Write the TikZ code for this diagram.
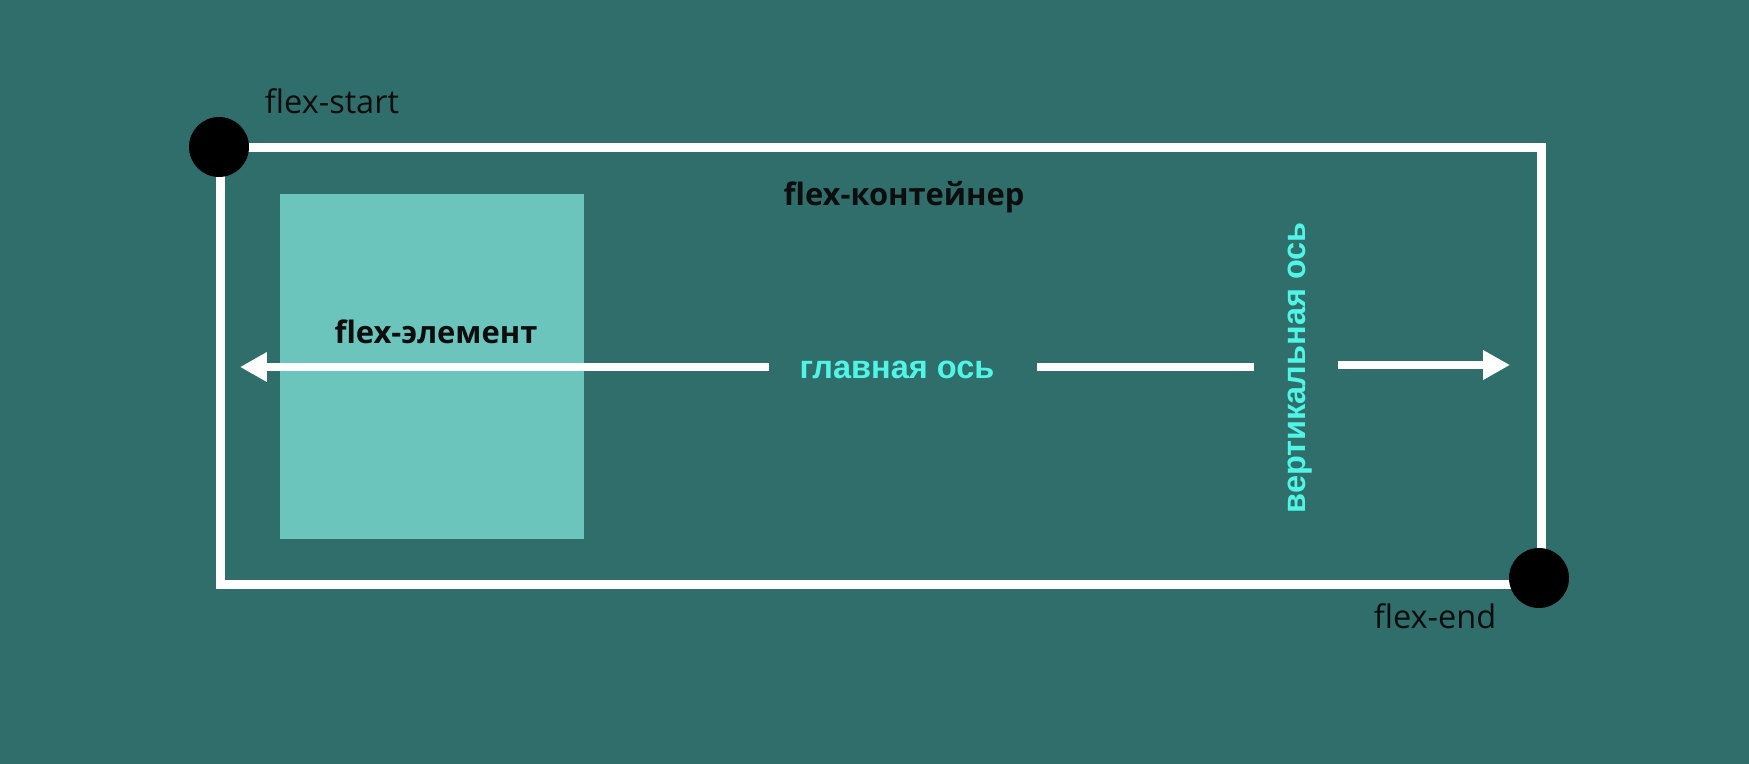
\documentclass[tikz,border=0pt]{standalone}
\usepackage{fontspec}
\setmainfont{Open Sans}
\newfontfamily\axisfont{Liberation Sans}
\usetikzlibrary{arrows.meta}
\definecolor{bgteal}{HTML}{2F6E6B}
\definecolor{itemteal}{HTML}{6CC5BD}
\definecolor{axiscyan}{HTML}{50F5E6}
\definecolor{inkblack}{HTML}{0D0D0D}
\tikzset{
  corner/.style={circle, fill=black, inner sep=0pt, minimum size=1.2cm},
  frame/.style={draw=white, line width=0.18cm},
  axisline/.style={draw=white, line width=0.17cm},
  axishead/.style={-{Triangle[length=0.54cm, width=0.56cm]}},
  plainlbl/.style={text=inkblack, inner sep=0pt, font=\fontsize{18.5pt}{20pt}\selectfont},
  boldlbl/.style={text=inkblack, inner sep=0pt, font=\fontsize{17.6pt}{19pt}\selectfont\bfseries},
  axislbl/.style={text=axiscyan, inner sep=0pt, font=\fontsize{18.5pt}{20pt}\selectfont\axisfont\bfseries}
}
\begin{document}
\begin{tikzpicture}[x=0.02cm, y=-0.02cm]
                    \fill[bgteal] (0,0) rectangle (1749,764);
                    \useasboundingbox (0,0) rectangle (1749,764);

                    \fill[itemteal] (280,194) rectangle (584,539);
                    \draw[frame] (220,147) rectangle (1541,584);

                    \node[corner] (start) at (219,147) {};
                    \node[corner] (end) at (1539,578) {};
                    \node[plainlbl, anchor=base] (startlbl) at (332,113) {flex-start};
                    \node[plainlbl, anchor=base] (endlbl) at (1435,628) {flex-end};
                    \node[boldlbl, anchor=base] (container) at (904,205) {flex-контейнер};
                    \node[boldlbl, anchor=base] (item) at (436,343) {flex-элемент};
                    \node[axislbl, anchor=base] (mainaxis) at (897,378) {главная ось};
                    \node[axislbl, anchor=base, rotate=90] (crossaxis) at (1305,368) {вертикальная ось};

                    \coordinate (mainL) at (240,367);
                    \coordinate (segA) at (769,367);
                    \coordinate (segB) at (1037,367);
                    \coordinate (segC) at (1254,367);
                    \coordinate (segD) at (1338,365);
                    \coordinate (mainR) at (1510,365);

                    \draw[axisline, axishead] (segA) -- (mainL);
                    \draw[axisline] (segB) -- (segC);
                    \draw[axisline, axishead] (segD) -- (mainR);
\end{tikzpicture}
\end{document}
